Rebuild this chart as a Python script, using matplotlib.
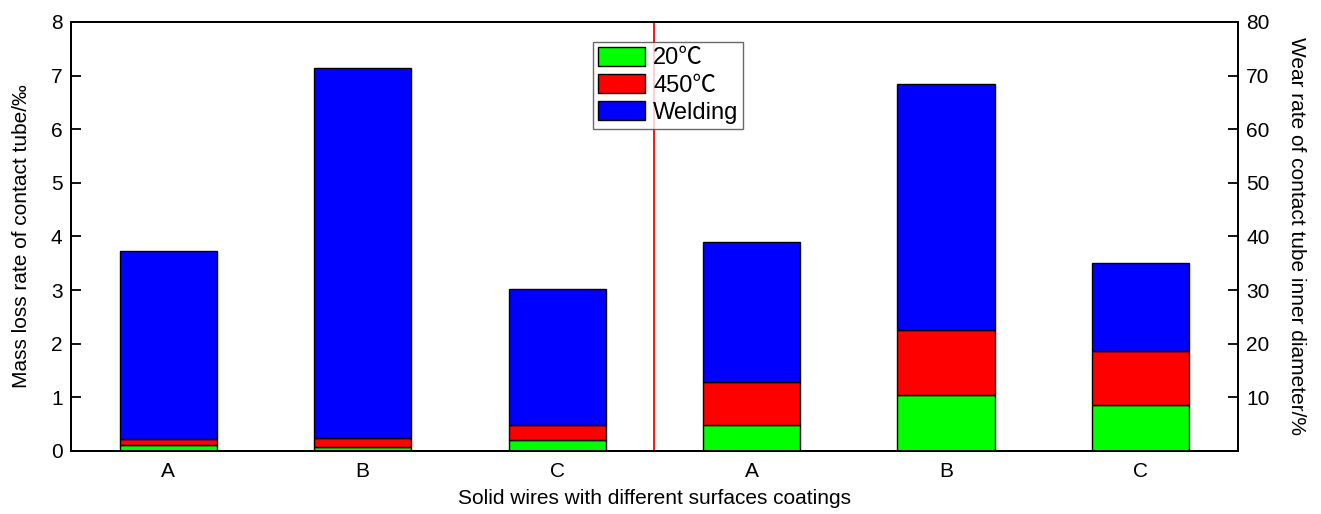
import numpy as np
import matplotlib
matplotlib.use("Agg")
import matplotlib.pyplot as plt
from matplotlib.patches import Patch

plt.rcParams['font.family'] = ['Liberation Sans', 'Noto Sans CJK SC', 'DejaVu Sans']

# coatings, left group = mass loss (‰), right group = inner diameter wear (%)
labels = ["A", "B", "C", "A", "B", "C"]
series = ["20℃", "450℃", "Welding"]
colors = ["#00ff00", "#ff0000", "#0000ff"]

mass_20 = [0.105, 0.075, 0.20]
mass_450 = [0.125, 0.165, 0.28]
mass_weld = [3.50, 6.91, 2.54]

wear_20 = [4.8, 10.5, 8.6]
wear_450 = [8.0, 12.0, 10.1]
wear_weld = [26.2, 46.0, 16.3]

fig = plt.figure(figsize=(13.21, 5.14), dpi=100)
ax = fig.add_axes([0.0537, 0.1226, 0.8833, 0.8346])
ax2 = ax.twinx()

x = np.arange(6)
w = 0.5

def stack(axis, xs, parts):
    bottom = np.zeros(len(xs))
    for vals, c in zip(parts, colors):
        axis.bar(xs, vals, w, bottom=bottom, color=c, edgecolor="black", linewidth=1)
        bottom += np.array(vals)

stack(ax, x[:3], [mass_20, mass_450, mass_weld])
stack(ax2, x[3:], [wear_20, wear_450, wear_weld])

ax.axvline(2.5, color="red", linewidth=1.3)

ax.set_xlim(-0.5, 5.5)
ax.set_ylim(0, 8)
ax2.set_ylim(0, 80)
ax.set_xticks(x)
ax.set_xticklabels(labels)
ax.set_yticks(range(0, 9))
ax2.set_yticks(range(10, 81, 10))

for a in (ax, ax2):
    for s in a.spines.values():
        s.set_linewidth(1.4)
ax.tick_params(axis="y", direction="in", length=7, width=1.3, labelsize=15, pad=6)
ax2.tick_params(axis="y", direction="in", length=7, width=1.3, labelsize=15, pad=6)
ax.tick_params(axis="x", length=0, labelsize=15, pad=8)

ax.set_xlabel("Solid wires with different surfaces coatings", fontsize=15, labelpad=6)
ax.set_ylabel("Mass loss rate of contact tube/‰", fontsize=15, labelpad=14)
ax2.set_ylabel("Wear rate of contact tube inner diameter/%", fontsize=15,
               rotation=270, labelpad=26)

handles = [Patch(facecolor=c, edgecolor="black", linewidth=1) for c in colors]
leg = fig.legend(handles, series, loc="upper left", bbox_to_anchor=(593 / 1321, 1 - 42 / 514),
                 fontsize=17, frameon=True, fancybox=False, handlelength=2.0, handleheight=0.85,
                 handletextpad=0.35, borderpad=0.2, labelspacing=0.2, borderaxespad=0)
leg.get_frame().set_edgecolor("#444444")
leg.get_frame().set_linewidth(1)

fig.savefig("out.png", dpi=100)
